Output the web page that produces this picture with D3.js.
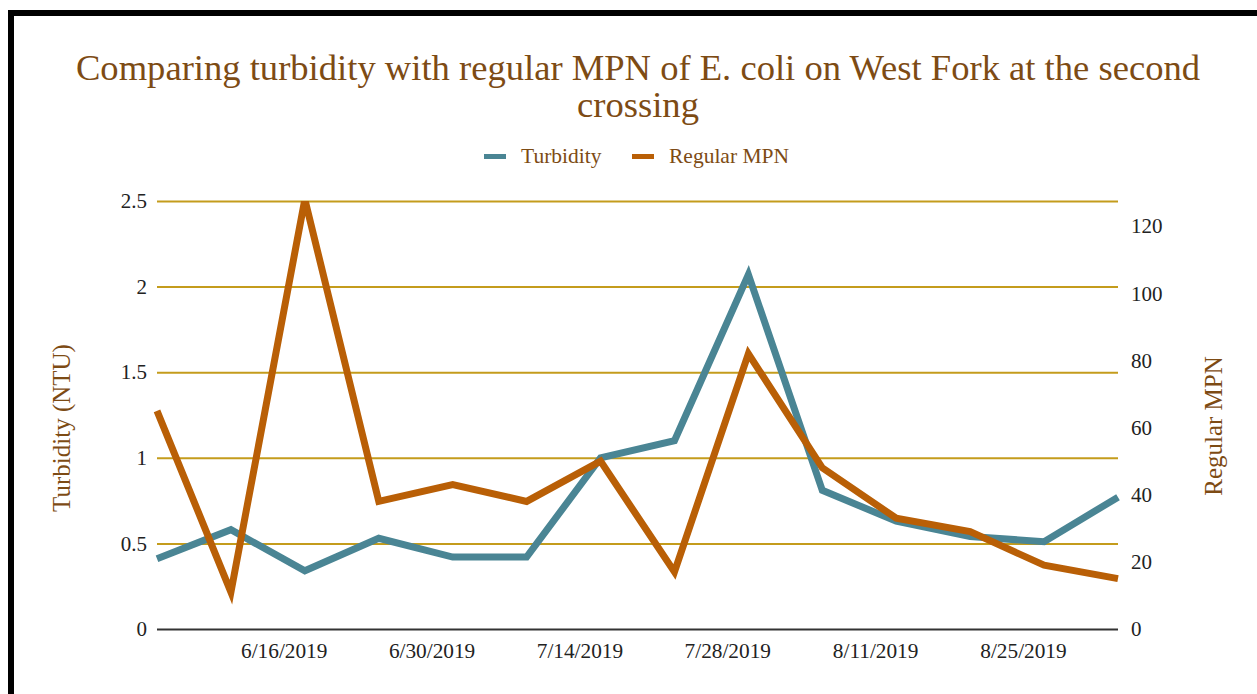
<!DOCTYPE html>
<html>
<head>
<meta charset="utf-8">
<script src="https://cdn.jsdelivr.net/npm/d3@7"></script>
<style>
  html, body { margin: 0; padding: 0; background: #fff; }
  svg { display: block; }
</style>
</head>
<body>
<svg id="chart" width="1257" height="694"></svg>
<script>
// ---- data ----
const dates = ["2019-06-04","2019-06-11","2019-06-18","2019-06-25","2019-07-02","2019-07-09","2019-07-16",
               "2019-07-23","2019-07-30","2019-08-06","2019-08-13","2019-08-20","2019-08-27","2019-09-03"];
const turbidity = [0.41, 0.58, 0.34, 0.53, 0.42, 0.42, 1.0, 1.1, 2.07, 0.81, 0.63, 0.54, 0.51, 0.77];
const regularMPN = [65, 11, 128, 38, 43, 38, 50, 17, 82, 48, 33, 29, 19, 15];
const xTickDates = ["2019-06-16","2019-06-30","2019-07-14","2019-07-28","2019-08-11","2019-08-25"];
const leftTicks = [0, 0.5, 1, 1.5, 2, 2.5];
const rightTicks = [0, 20, 40, 60, 80, 100, 120];
const leftMax = 2.5;
const rightMax = 127.5;
const titleLines = ["Comparing turbidity with regular MPN of E. coli on West Fork at the second", "crossing"];
const seriesNames = ["Turbidity", "Regular MPN"];

// ---- styles ----
const FONT = "'Liberation Serif', 'Times New Roman', serif";
const brown = "#7d4b14";
const teal = "#4a8594";
const orange = "#b95f06";
const grid = "#c49c1c";

const svg = d3.select("#chart");
const parse = d3.timeParse("%Y-%m-%d");
const fmt = d3.timeFormat("%-m/%-d/%Y");
const m = {left: 157, right: 1118, top: 201, bottom: 629};

// frame
svg.append("rect").attr("x", 11).attr("y", 13).attr("width", 1300).attr("height", 800)
  .attr("fill", "none").attr("stroke", "#000").attr("stroke-width", 6);

const x = d3.scaleTime().domain([parse(dates[0]), parse(dates[dates.length-1])]).range([m.left, m.right]);
const yL = d3.scaleLinear().domain([0, leftMax]).range([m.bottom, m.top]);
const yR = d3.scaleLinear().domain([0, rightMax]).range([m.bottom, m.top]);

// title
titleLines.forEach((t, i) => svg.append("text").attr("text-anchor", "middle").attr("fill", brown)
  .style("font-family", FONT).style("font-size", "36.6px")
  .attr("x", 638).attr("y", 80 + i * 37).text(t));

// legend
const legend = [{name: seriesNames[0], color: teal, x: 484}, {name: seriesNames[1], color: orange, x: 632}];
legend.forEach(l => {
  svg.append("rect").attr("x", l.x).attr("y", 154).attr("width", 22).attr("height", 5).attr("fill", l.color);
  svg.append("text").attr("x", l.x + 37).attr("y", 163).attr("fill", brown)
    .style("font-family", FONT).style("font-size", "21.5px").text(l.name);
});

// gridlines (left axis)
const gLeft = svg.append("g").attr("transform", `translate(${m.left},0)`)
  .call(d3.axisLeft(yL).tickValues(leftTicks).tickSize(-(m.right - m.left)).tickPadding(10).tickFormat(d3.format("")));
gLeft.select(".domain").remove();
gLeft.selectAll(".tick line").attr("stroke", grid).attr("stroke-width", 2);
gLeft.selectAll(".tick text").attr("fill", "#222").style("font-family", FONT).style("font-size", "21px");
gLeft.selectAll(".tick").filter(d => d === 0).select("line").attr("stroke", "#333");

// right axis
const gRight = svg.append("g").attr("transform", `translate(${m.right},0)`)
  .call(d3.axisRight(yR).tickValues(rightTicks).tickSize(0).tickPadding(13));
gRight.select(".domain").remove();
gRight.selectAll(".tick text").attr("fill", "#222").style("font-family", FONT).style("font-size", "21px");

// x axis
const gX = svg.append("g").attr("transform", `translate(0,${m.bottom})`)
  .call(d3.axisBottom(x).tickValues(xTickDates.map(parse)).tickSize(0).tickPadding(14).tickFormat(fmt));
gX.select(".domain").remove();
gX.selectAll(".tick text").attr("fill", "#222").style("font-family", FONT).style("font-size", "21.3px");

// axis titles
svg.append("text").attr("transform", "translate(70,428) rotate(-90)").attr("text-anchor", "middle")
  .attr("fill", brown).style("font-family", FONT).style("font-size", "25px").text("Turbidity (NTU)");
svg.append("text").attr("transform", "translate(1222,426) rotate(-90)").attr("text-anchor", "middle")
  .attr("fill", brown).style("font-family", FONT).style("font-size", "25px").text("Regular MPN");

// clip
svg.append("clipPath").attr("id", "plotclip").append("rect")
  .attr("x", m.left - 10).attr("y", m.top).attr("width", m.right - m.left + 20).attr("height", m.bottom - m.top + 40);

const plot = svg.append("g").attr("clip-path", "url(#plotclip)");
const lineL = d3.line().x((d, i) => x(parse(dates[i]))).y(d => yL(d));
const lineR = d3.line().x((d, i) => x(parse(dates[i]))).y(d => yR(d));

plot.append("path").datum(turbidity).attr("d", lineL).attr("fill", "none")
  .attr("stroke", teal).attr("stroke-width", 7);
plot.append("path").datum(regularMPN).attr("d", lineR).attr("fill", "none")
  .attr("stroke", orange).attr("stroke-width", 7);
</script>
</body>
</html>
